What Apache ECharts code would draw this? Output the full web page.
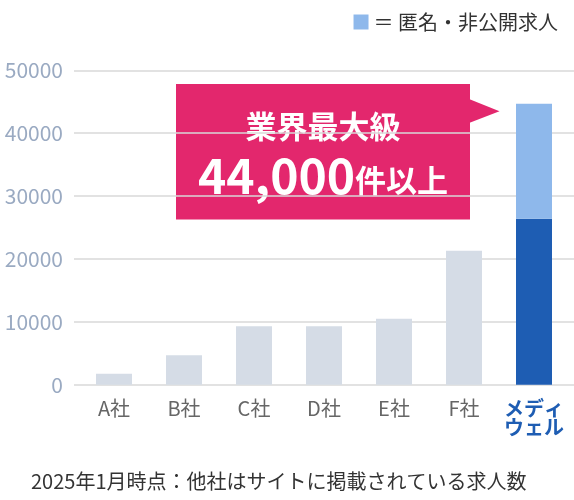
<!DOCTYPE html>
<html>
<head>
<meta charset="utf-8">
<script src="https://cdn.jsdelivr.net/npm/echarts@6/dist/echarts.min.js"></script>
<style>
    html, body { margin: 0; padding: 0; background: #fff; }
    #chart { width: 574px; height: 500px; }
</style>
</head>
<body>
<div id="chart"></div>
<script>
// data
const categories = ['A社', 'B社', 'C社', 'D社', 'E社', 'F社', 'メディ\nウェル'];
const otherCounts = [1750, 4700, 9300, 9300, 10500, 21300];
const mediPublic = 26400;
const mediHidden = 18300;
const yTicks = [0, 10000, 20000, 30000, 40000, 50000];
const hiddenLabel = '＝ 匿名・非公開求人';
const calloutTitle = '業界最大級';
const calloutCount = '44,000';
const calloutUnit = '件以上';
const footNote = '2025年1月時点：他社はサイトに掲載されている求人数';

const FONT = '"Noto Sans CJK JP", "Noto Sans", sans-serif';
const GRAY = '#D5DCE6';
const DARK = '#1E5DB3';
const LIGHT = '#8EB8EB';
const PINK = '#E3276D';

const publicData = otherCounts.map(v => ({ value: v, itemStyle: { color: GRAY } }));
publicData.push({ value: mediPublic, itemStyle: { color: DARK } });
const hiddenData = otherCounts.map(() => null);
hiddenData.push(mediHidden);

const yMin = yTicks[0];
const yMax = yTicks[yTicks.length - 1];
const yStep = yTicks[1] - yTicks[0];

const chart = echarts.init(document.getElementById('chart'));

const option = {
    animation: false,
    textStyle: { fontFamily: FONT },
    legend: {
        data: [hiddenLabel],
        right: 11,
        top: 7,
        icon: 'rect',
        itemWidth: 15,
        itemHeight: 15,
        itemGap: 5,
        textStyle: { fontSize: 20, color: '#333', fontFamily: FONT }
    },
    title: {
        text: footNote,
        left: 31,
        top: 471,
        padding: 0,
        textStyle: { fontSize: 20, fontWeight: 'normal', color: '#333', fontFamily: FONT }
    },
    grid: [
        // bars
        { left: 79, right: 5, top: 70.3, bottom: 115.3 },
        // grid lines, a bit wider than the category band
        { left: 74, right: 0, top: 70.3, bottom: 115.3 }
    ],
    xAxis: [
        {
            type: 'category',
            gridIndex: 0,
            data: categories,
            axisLine: { show: false },
            axisTick: { show: false },
            axisLabel: {
                interval: 0,
                margin: 14,
                fontSize: 20,
                color: '#666',
                fontFamily: FONT,
                formatter: (val, idx) => idx === categories.length - 1 ? '{m|' + val + '}' : val,
                rich: {
                    m: { fontSize: 20, fontWeight: 'bold', color: DARK, lineHeight: 19, fontFamily: FONT }
                }
            }
        },
        { type: 'value', gridIndex: 1, show: false, min: 0, max: 1 }
    ],
    yAxis: [
        {
            type: 'value',
            gridIndex: 0,
            min: yMin,
            max: yMax,
            interval: yStep,
            axisLabel: { show: false },
            axisLine: { show: false },
            axisTick: { show: false },
            splitLine: { show: false }
        },
        {
            type: 'value',
            gridIndex: 1,
            min: yMin,
            max: yMax,
            interval: yStep,
            axisLine: { show: false },
            axisTick: { show: false },
            axisLabel: {
                margin: 11,
                fontSize: 21,
                color: '#9AAAC2',
                fontFamily: FONT,
                formatter: v => String(v)
            },
            splitLine: { show: true, lineStyle: { color: '#D9D9D9', width: 1.5 } }
        }
    ],
    series: [
        {
            name: '公開求人',
            type: 'bar',
            stack: 'total',
            xAxisIndex: 0,
            yAxisIndex: 0,
            barWidth: 36,
            data: publicData
        },
        {
            name: hiddenLabel,
            type: 'bar',
            stack: 'total',
            xAxisIndex: 0,
            yAxisIndex: 0,
            barWidth: 36,
            itemStyle: { color: LIGHT },
            data: hiddenData
        }
    ],
    color: [DARK, LIGHT],
    graphic: [
        {
            type: 'group',
            children: [
                {
                    type: 'rect',
                    shape: { x: 176, y: 84, width: 294, height: 135.5 },
                    style: { fill: PINK }
                },
                {
                    type: 'polygon',
                    shape: { points: [[469, 99], [499.5, 111.3], [469, 123]] },
                    style: { fill: PINK }
                },
                {
                    type: 'text',
                    style: {
                        text: calloutTitle,
                        x: 323,
                        y: 126,
                        align: 'center',
                        verticalAlign: 'middle',
                        fill: '#fff',
                        font: 'bold 31px ' + FONT
                    }
                },
                {
                    type: 'text',
                    style: {
                        text: '{a|' + calloutCount + '}{b|' + calloutUnit + '}',
                        x: 323,
                        y: 200,
                        align: 'center',
                        verticalAlign: 'bottom',
                        fill: '#fff',
                        rich: {
                            a: { fontSize: 48, fontWeight: 'bold', fill: '#fff', lineHeight: 50, verticalAlign: 'bottom', fontFamily: FONT },
                            b: { fontSize: 31, fontWeight: 'bold', fill: '#fff', lineHeight: 50, verticalAlign: 'bottom', fontFamily: FONT, padding: [0, 0, 4, 0] }
                        }
                    }
                }
            ]
        }
    ]
};

chart.setOption(option);
</script>
</body>
</html>
